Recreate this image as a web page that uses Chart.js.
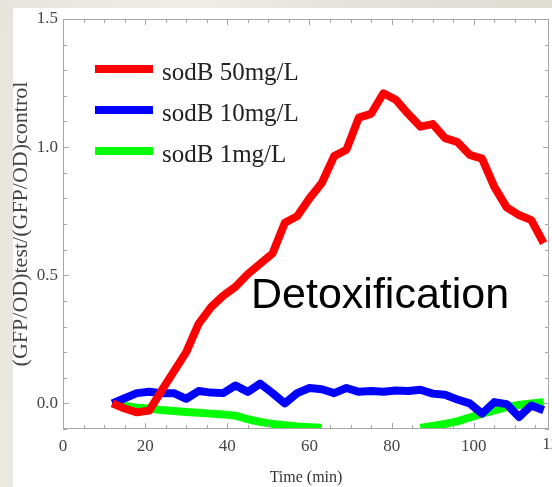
<!DOCTYPE html>
<html>
<head>
<meta charset="utf-8">
<script src="https://cdn.jsdelivr.net/npm/chart.js@4.4.0/dist/chart.umd.min.js"></script>
<style>
    html, body { margin: 0; padding: 0; width: 552px; height: 487px; overflow: hidden; }
    body { position: relative; background: linear-gradient(100deg, #e6e4dc 0%, #efede8 30%, #e4e2d9 55%, #dddbd0 100%); }
    #panel { position: absolute; left: 13px; top: 8px; right: 0; bottom: 0; background: #fff; }
    #wrap { position: absolute; left: 0; top: 0; width: 552px; height: 487px; }
</style>
</head>
<body>
<div id="panel"></div>
<div id="wrap"><canvas id="chart" width="552" height="487"></canvas></div>
<script>
// sampling times (min)
var times = [12, 15, 18, 21, 24, 27, 30, 33, 36, 39,
             42, 45, 48, 51, 54, 57, 60, 63, 66, 69,
             72, 75, 78, 81, 84, 87, 90, 93, 96, 99,
             102, 105, 108, 111, 114, 117];

var sod50 = [0.00, -0.02, -0.035, -0.028, 0.05, 0.125, 0.20, 0.31, 0.375, 0.42,
             0.455, 0.505, 0.545, 0.585, 0.705, 0.73, 0.80, 0.86, 0.965, 0.99,
             1.115, 1.13, 1.21, 1.185, 1.13, 1.08, 1.09, 1.035, 1.02, 0.97,
             0.955, 0.845, 0.765, 0.735, 0.715, 0.625];

var sod10 = [0.00, 0.02, 0.04, 0.045, 0.04, 0.04, 0.018, 0.048, 0.042, 0.04,
             0.07, 0.045, 0.077, 0.04, 0.00, 0.04, 0.06, 0.055, 0.04, 0.06,
             0.045, 0.048, 0.045, 0.05, 0.048, 0.053, 0.038, 0.034, 0.015, 0.00,
             -0.04, 0.005, -0.003, -0.053, -0.008, -0.027];

// below the plot range between ~65 and ~86 min (not visible)
var sod1 = [0.00, -0.01, -0.017, -0.02, -0.026, -0.03, -0.034, -0.037, -0.04, -0.043,
            -0.048, -0.062, -0.072, -0.08, -0.085, -0.09, -0.093, -0.095, null, null,
            null, null, null, null, null, -0.096, -0.088, -0.08, -0.07, -0.055,
            -0.04, -0.027, -0.015, -0.006, 0.00, 0.004];

var seriesLabels = ['sodB 50mg/L', 'sodB 10mg/L', 'sodB 1mg/L'];
var seriesColors = ['#ff0000', '#0000ff', '#00ff00'];
var yTickValues = [0, 0.5, 1.0, 1.5];
var xTickValues = [0, 20, 40, 60, 80, 100, 120];

var serif = "'Liberation Serif', 'DejaVu Serif', serif";

function points(values) {
    return times.map(function(t, i) { return { x: t, y: values[i] }; });
}

function makeDataset(i, values) {
    return {
        label: seriesLabels[i],
        data: points(values),
        borderColor: seriesColors[i],
        backgroundColor: seriesColors[i],
        borderWidth: 8,
        pointRadius: 0,
        tension: 0,
        borderJoinStyle: 'round',
        borderCapStyle: 'butt',
        clip: 0
    };
}

// frame with inward ticks, legend and annotation
var framePlugin = {
    id: 'frame',
    afterDatasetsDraw: function(chart) {
        var ctx = chart.ctx;
        var a = chart.chartArea;
        var xs = chart.scales.x;
        var ys = chart.scales.y;
        ctx.save();
        ctx.strokeStyle = '#a6a6a6';
        ctx.lineWidth = 1;
        ctx.strokeRect(a.left + 0.5, a.top + 0.5, a.right - a.left - 1, a.bottom - a.top - 1);

        ctx.beginPath();
        for (var v = 0; v <= xs.max; v += 5) {
            var px = Math.round(xs.getPixelForValue(v)) + 0.5;
            var len = v % 20 === 0 ? 6 : 4;
            ctx.moveTo(px, a.bottom); ctx.lineTo(px, a.bottom - len);
            ctx.moveTo(px, a.top); ctx.lineTo(px, a.top + len);
        }
        for (var k = -1; k <= 15; k++) {
            var py = Math.round(ys.getPixelForValue(k / 10)) + 0.5;
            var ylen = k % 5 === 0 ? 6 : 4;
            ctx.moveTo(a.left, py); ctx.lineTo(a.left + ylen, py);
            ctx.moveTo(a.right, py); ctx.lineTo(a.right - ylen, py);
        }
        ctx.stroke();

        // last x label sits past the cropped right edge
        ctx.fillStyle = '#444';
        ctx.font = '17px ' + serif;
        ctx.textAlign = 'center';
        ctx.textBaseline = 'top';
        var last = xTickValues[xTickValues.length - 1];
        ctx.fillText(String(last), xs.getPixelForValue(last) - 1, a.bottom + 7);

        // legend
        ctx.textAlign = 'left';
        ctx.textBaseline = 'alphabetic';
        ctx.font = '25px ' + serif;
        chart.data.datasets.forEach(function(ds, i) {
            var y = 69 + i * 41;
            ctx.strokeStyle = ds.borderColor;
            ctx.lineWidth = 8;
            ctx.beginPath();
            ctx.moveTo(95, y);
            ctx.lineTo(153, y);
            ctx.stroke();
            ctx.fillStyle = '#222';
            ctx.fillText(ds.label, 162, y + 11);
        });

        ctx.fillStyle = '#000';
        ctx.font = "43px 'Liberation Sans', Arial, sans-serif";
        ctx.fillText('Detoxification', 251, 308);
        ctx.restore();
    }
};

new Chart(document.getElementById('chart'), {
    type: 'line',
    data: {
        datasets: [
            makeDataset(0, sod50),
            makeDataset(1, sod10),
            makeDataset(2, sod1)
        ]
    },
    options: {
        responsive: false,
        animation: false,
        devicePixelRatio: 1,
        layout: { padding: { top: 19, right: 3, left: 0, bottom: 0 } },
        plugins: {
            legend: { display: false },
            tooltip: { enabled: false }
        },
        scales: {
            x: {
                type: 'linear',
                min: 0,
                max: 118.3,
                grid: { display: false, drawTicks: false },
                border: { display: false },
                afterBuildTicks: function(scale) {
                    scale.ticks = xTickValues.filter(function(v) { return v <= scale.max; })
                        .map(function(v) { return { value: v }; });
                },
                afterFit: function(scale) { scale.height = 58; },
                ticks: {
                    padding: 7,
                    maxRotation: 0,
                    color: '#444',
                    font: { family: serif, size: 17 }
                },
                title: {
                    display: true,
                    text: 'Time (min)',
                    color: '#333',
                    padding: { top: 0, bottom: 1 },
                    font: { family: serif, size: 16, lineHeight: 1 }
                }
            },
            y: {
                min: -0.1,
                max: 1.5,
                grid: { display: false, drawTicks: false },
                border: { display: false },
                afterBuildTicks: function(scale) {
                    scale.ticks = yTickValues.map(function(v) { return { value: v }; });
                },
                afterFit: function(scale) { scale.width = 63; },
                ticks: {
                    padding: 5,
                    color: '#444',
                    font: { family: serif, size: 17 },
                    callback: function(v) { return Number(v).toFixed(1); }
                },
                title: {
                    display: true,
                    text: '(GFP/OD)test/(GFP/OD)control',
                    color: '#444',
                    padding: { top: 10, bottom: 0 },
                    font: { family: serif, size: 22, lineHeight: 1 }
                }
            }
        }
    },
    plugins: [framePlugin]
});
</script>
</body>
</html>
